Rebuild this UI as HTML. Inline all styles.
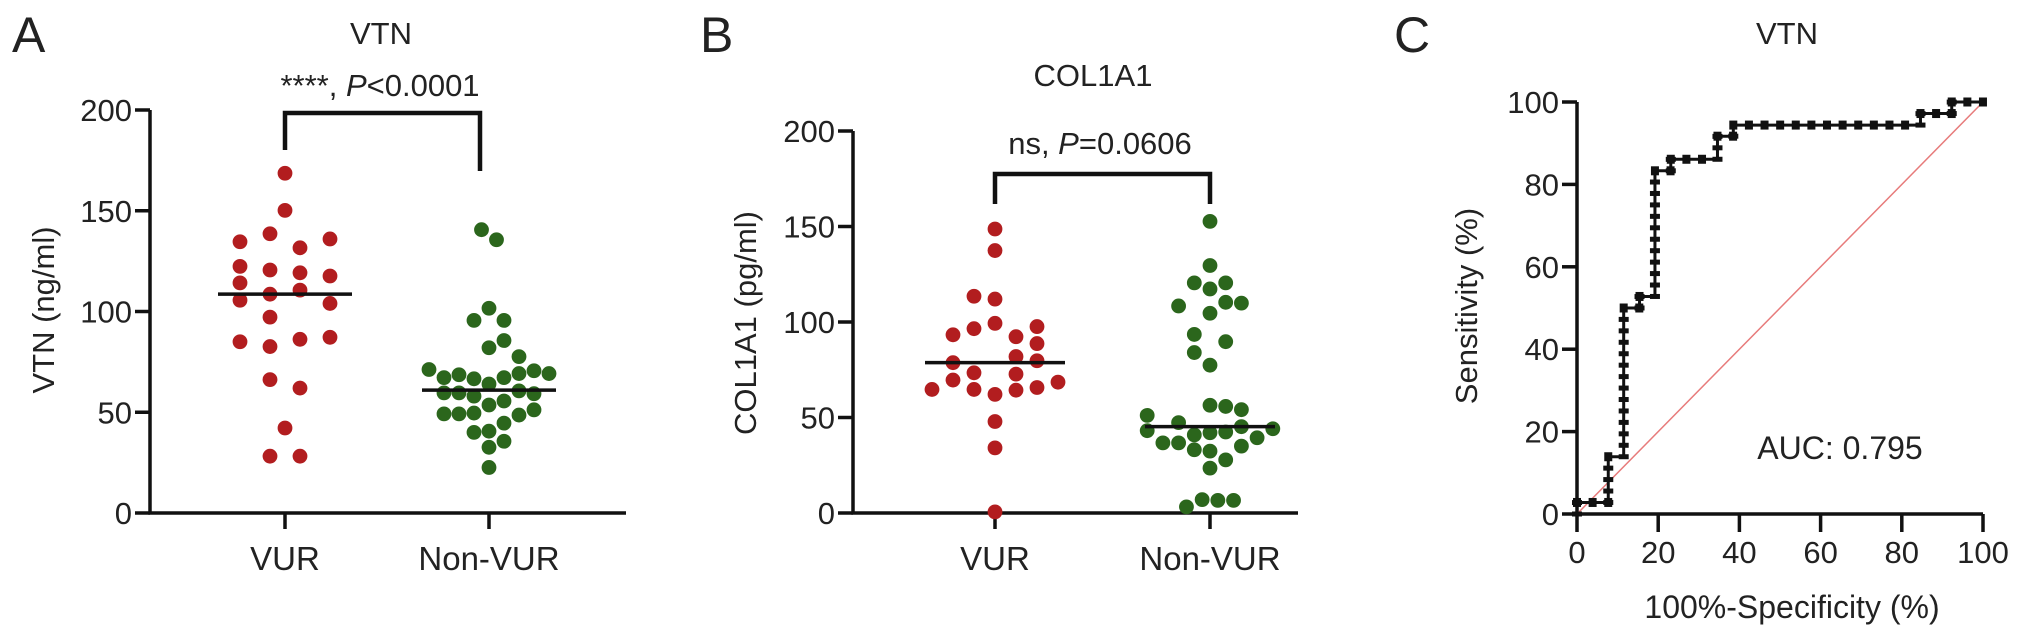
<!DOCTYPE html>
<html><head><meta charset="utf-8"><style>
html,body{margin:0;padding:0;background:#fff;}
svg{display:block;font-family:"Liberation Sans",Arial,sans-serif;}
text{fill:#222;}
</style></head><body>
<svg id="fig" width="2032" height="637" viewBox="0 0 2032 637" xmlns="http://www.w3.org/2000/svg">
<g id="pa"></g>
<g id="pb"></g>
<g id="pc"></g>
</svg>
<script>
// ---------- Panel A data (VTN ng/ml) ----------
const aCategories = ["VUR", "Non-VUR"];
const aTicks = [0, 50, 100, 150, 200];
const aVurValues = [168.6,150.2,138.6,134.6,136,131.6,122.4,120.6,119.2,117.6,114.2,110.6,108.6,105.6,104,97.2,85,86.2,87.2,82.6,66.2,62,42.2,28.2,28.2];
const aVurLane =   [0,0,-2,-6,6,2,-6,-2,2,6,-6,2,-2,-6,6,-2,-6,2,6,-2,-2,2,0,-2,2];
const aNonValues = [140.6,135.6,101.6,95.6,95.6,85.6,82,77.6,71.2,67.2,68.6,66.6,67.2,69.2,70.6,69.2,64,59.6,59.6,58,60.6,59.2,53.6,55.6,49.2,49.2,49.6,48.6,51.2,44.6,40,40.6,35.6,32.6,22.6];
const aNonLane =   [-1,1,0,-2,2,2,0,4,-8,-6,-4,-2,2,4,6,8,0,-6,-4,-2,4,6,0,2,-6,-4,-2,4,6,2,-2,0,2,0,0];
const aMedians = [108.6, 61];

// ---------- Panel B data (COL1A1 pg/ml) ----------
const bCategories = ["VUR", "Non-VUR"];
const bTicks = [0, 50, 100, 150, 200];
const bVurValues = [148.7,137.4,113.5,112,99.3,96.5,97.6,93.3,92.3,88.7,81.9,78.7,79.7,73.4,72.7,69.6,68.5,64.7,64.7,64.3,65.7,62.1,47.9,34.1,0.6];
const bVurLane =   [0,0,-1,0,0,-1,2,-2,1,2,1,-2,2,-1,1,-2,3,-3,-1,1,2,0,0,0,0];
const bNonValues = [152.7,129.6,120.5,120.5,117.3,108.4,110.3,109.9,104.6,93.5,89.7,84,77.4,56.4,55.8,54.1,51.1,47.3,45.2,44.1,43.1,36.7,40.9,42,42.4,39.4,36.7,35,33.1,32.4,27.8,23.5,7,6.6,6.6,3.2];
const bNonLane =   [0,0,-1,1,0,-2,1,2,0,-1,1,-1,0,0,1,2,-4,-2,2,4,-4,-3,-1,0,1,3,-2,2,-1,0,1,0,-0.5,0.5,1.5,-1.5];
const bMedians = [78.7, 45.2];

// ---------- Panel C data (ROC) ----------
const cTicks = [0, 20, 40, 60, 80, 100];
const rocFpr = [0,0,7.7,7.7,11.5,11.5,15.4,15.4,19.2,19.2,23.1,23.1,34.6,34.6,38.5,38.5,84.6,84.6,92.3,92.3,100];
const rocTpr = [0,2.8,2.8,13.9,13.9,50,50,52.8,52.8,83.3,83.3,86.1,86.1,91.7,91.7,94.4,94.4,97.2,97.2,100,100];
const aucLabel = "AUC: 0.795";

const NS = "http://www.w3.org/2000/svg";
function mk(parent, tag, attrs, txt){
  const e = document.createElementNS(NS, tag);
  for (const k in attrs) e.setAttribute(k, attrs[k]);
  if (txt !== undefined) e.textContent = txt;
  parent.appendChild(e);
  return e;
}
const RED = "#b21d1f", GREEN = "#2b661c";

function dotPanel(g, cfg){
  const y = v => cfg.y0 - v * (cfg.y0 - cfg.y200) / 200;
  let t = mk(g, "text", {x: cfg.letterX, y: 52, "font-size": 50});
  t.textContent = cfg.letter;
  
  
  t = mk(g, "text", {x: cfg.titleX, y: cfg.titleY, "font-size": 31, "text-anchor": "middle"}, cfg.title);
  
  
  let ax = mk(g, "path", {d: `M${cfg.axX} ${cfg.y200} V${cfg.y0} H${cfg.axEnd}`, stroke: "#111", "stroke-width": 3.5, fill: "none"});
  
  
  cfg.ticks.forEach(v => {
    const tk = mk(g, "line", {x1: cfg.axX - 15, x2: cfg.axX, y1: y(v), y2: y(v), stroke: "#111", "stroke-width": 3.5});
    
    
    const tl = mk(g, "text", {x: cfg.axX - 18, y: y(v) + 11, "font-size": 31, "text-anchor": "end"}, String(v));
    
    
  });
  const yt = mk(g, "text", {transform: `translate(${cfg.yTitleX},${cfg.yTitleY}) rotate(-90)`, "font-size": 31, "text-anchor": "middle"}, cfg.yTitle);
  
  
  cfg.cats.forEach((c, i) => {
    const cx = cfg.catX[i];
    const tk = mk(g, "line", {x1: cx, x2: cx, y1: cfg.y0, y2: cfg.y0 + 16, stroke: "#111", "stroke-width": 3.5});
    
    
    const tl = mk(g, "text", {x: cx, y: cfg.y0 + 57, "font-size": 33, "text-anchor": "middle"}, c);
    
    
  });
  cfg.series.forEach((s, i) => {
    s.values.forEach((v, j) => {
      const d = mk(g, "circle", {cx: cfg.catX[i] + s.lane[j] * s.unit, cy: y(v), r: 7.4, fill: s.color});
      
      
    });
    const m = mk(g, "line", {x1: cfg.catX[i] - cfg.medHalf[i], x2: cfg.catX[i] + cfg.medHalf[i], y1: y(cfg.medians[i]), y2: y(cfg.medians[i]), stroke: "#111", "stroke-width": 3.5});
    
    
  });
  const br = mk(g, "path", {d: `M${cfg.catX[0]} ${cfg.brL} V${cfg.brTop} H${cfg.brRX} V${cfg.brR}`, stroke: "#111", "stroke-width": 4.5, fill: "none"});
  
  
  const st = mk(g, "text", {x: cfg.sigX, y: cfg.sigY, "font-size": 31, "text-anchor": "middle"});
  
  
  mk(st, "tspan", {}, cfg.sigPre);
  mk(st, "tspan", {"font-style": "italic"}, "P");
  mk(st, "tspan", {}, cfg.sigPost);
}

dotPanel(document.getElementById("pa"), {
  letter: "A", letterX: 12, title: "VTN", titleX: 381, titleY: 44,
  axX: 150, axEnd: 626, y0: 513, y200: 110, ticks: aTicks,
  yTitle: "VTN (ng/ml)", yTitleX: 54, yTitleY: 310,
  cats: aCategories, catX: [285, 489],
  series: [{name: "vur", values: aVurValues, lane: aVurLane, unit: 7.5, color: RED},
           {name: "non-vur", values: aNonValues, lane: aNonLane, unit: 7.5, color: GREEN}],
  medians: aMedians, medHalf: [67, 67],
  brTop: 113, brL: 150, brR: 171, brRX: 480,
  sigX: 380, sigY: 96, sigPre: "****, ", sigPost: "<0.0001"
});

dotPanel(document.getElementById("pb"), {
  letter: "B", letterX: 700, title: "COL1A1", titleX: 1093, titleY: 86,
  axX: 853, axEnd: 1298, y0: 513, y200: 131, ticks: bTicks,
  yTitle: "COL1A1 (pg/ml)", yTitleX: 756, yTitleY: 323,
  cats: bCategories, catX: [995, 1210],
  series: [{name: "vur", values: bVurValues, lane: bVurLane, unit: 21, color: RED},
           {name: "non-vur", values: bNonValues, lane: bNonLane, unit: 15.7, color: GREEN}],
  medians: bMedians, medHalf: [70, 65],
  brTop: 174, brL: 204, brR: 204, brRX: 1210,
  sigX: 1100, sigY: 154, sigPre: "ns, ", sigPost: "=0.0606"
});

// ---------- Panel C ----------
(function(){
  const g = document.getElementById("pc");
  const X0 = 1577, X1 = 1983, Y0 = 514, Y1 = 102;
  const x = v => X0 + v * (X1 - X0) / 100;
  const y = v => Y0 - v * (Y0 - Y1) / 100;
  let t = mk(g, "text", {x: 1394, y: 52, "font-size": 50}, "C");
  
  
  t = mk(g, "text", {x: 1787, y: 44, "font-size": 31, "text-anchor": "middle"}, "VTN");
  
  
  const ax = mk(g, "path", {d: `M${X0} ${Y1} V${Y0} H${X1}`, stroke: "#111", "stroke-width": 3.5, fill: "none"});
  
  
  cTicks.forEach(v => {
    let a = mk(g, "line", {x1: X0 - 15, x2: X0, y1: y(v), y2: y(v), stroke: "#111", "stroke-width": 3.5});
    
    
    a = mk(g, "text", {x: X0 - 18, y: y(v) + 11, "font-size": 31, "text-anchor": "end"}, String(v));
    
    
    a = mk(g, "line", {x1: x(v), x2: x(v), y1: Y0, y2: Y0 + 18, stroke: "#111", "stroke-width": 3.5});
    
    
    a = mk(g, "text", {x: x(v), y: 563, "font-size": 31, "text-anchor": "middle"}, String(v));
    
    
  });
  t = mk(g, "text", {transform: `translate(1477,306) rotate(-90)`, "font-size": 31, "text-anchor": "middle"}, "Sensitivity (%)");
  
  
  t = mk(g, "text", {x: 1792, y: 618, "font-size": 32, "text-anchor": "middle"}, "100%-Specificity (%)");
  
  
  const diag = mk(g, "line", {x1: x(0), y1: y(0), x2: x(100), y2: y(100), stroke: "#e77b7b", "stroke-width": 1.5});
  
  
  let d = "";
  rocFpr.forEach((f, i) => { d += (i ? "L" : "M") + x(f) + " " + y(rocTpr[i]) + " "; });
  const roc = mk(g, "path", {d: d, stroke: "#111", "stroke-width": 3, fill: "none"});
  
  
  const mg = mk(g, "g", {fill: "#111"});
  
  
  for (let i = 1; i < rocFpr.length; i++) {
    const f0 = rocFpr[i-1], f1 = rocFpr[i], s0 = rocTpr[i-1], s1 = rocTpr[i];
    if (f1 === f0) {
      for (let s = s0; s <= s1 + 0.01; s += 100/36) {
        mk(mg, "rect", {x: x(f0) - 5, y: y(s) - 2.5, width: 10, height: 5});
      }
    } else {
      for (let f = f0; f <= f1 + 0.01; f += 100/26) {
        mk(mg, "rect", {x: x(f) - 4, y: y(s0) - 4.5, width: 8, height: 9});
      }
    }
  }
  t = mk(g, "text", {x: 1840, y: 459, "font-size": 32, "text-anchor": "middle"}, aucLabel);
  
  
})();
</script>
</body></html>
